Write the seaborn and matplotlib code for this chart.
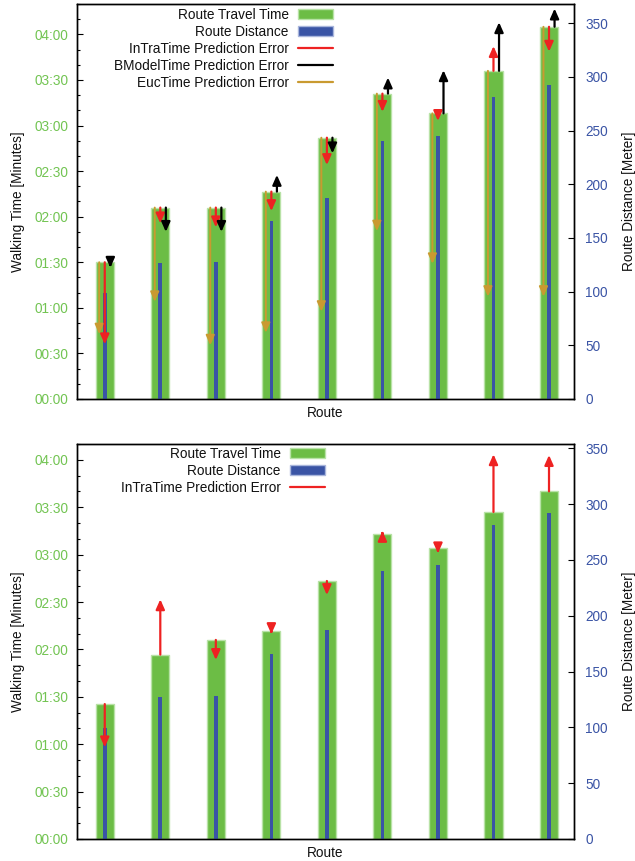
import matplotlib
matplotlib.use("Agg")
import matplotlib.pyplot as plt
import seaborn as sns
import pandas as pd
from matplotlib.ticker import MultipleLocator, FuncFormatter
from matplotlib.patches import Patch
from matplotlib.lines import Line2D

# ---- data -------------------------------------------------------------
routes = [str(i) for i in range(1, 10)]
route_distance_m = [99, 127, 128, 166, 187, 240, 245, 281, 292]

# upper panel, seconds
travel_time_a = [90, 126, 126, 136.5, 172, 201, 188, 216, 245]
intra_pred_a = [36, 115.6, 113, 123.7, 154, 189, 183, 232.3, 228.6]
bmodel_pred_a = [86.4, 110, 110, 147.5, 161.7, 211.6, 216.4, 248, 257]
euc_pred_a = [42.7, 64, 35.4, 43.6, 57.5, 110.5, 89, 67.4, 67.4]

# lower panel, seconds
travel_time_b = [85.4, 116.7, 126, 131.8, 163.3, 193.2, 184, 207, 220]
intra_pred_b = [58, 151.7, 113.3, 129.7, 154.4, 195, 180.8, 243.5, 243]

# metres shown per second on the right axis
M_PER_S = 1.415

GREEN = "#6cbd45"
GREEN_EDGE = "#b8e2a6"
GREEN_TXT = "#72c452"
BLUE = "#3a54a5"
BLUE_EDGE = "#a9b6dc"
RED = "#ee2222"
BLACK = "#000000"
GOLD = "#c99a30"

sns.set_theme(style="ticks")
plt.rcParams["font.family"] = ["Liberation Sans", "DejaVu Sans"]
FS = 9.8


def mmss(v, _pos=None):
    v = int(round(v))
    return f"{v // 60:02d}:{v % 60:02d}"


def draw_panel(ax, travel, arrow_sets, y_top, legend_entries, legend_anchor):
    df_t = pd.DataFrame({"route": routes, "time": travel})
    df_d = pd.DataFrame({"route": routes, "dist": route_distance_m})

    sns.barplot(data=df_t, x="route", y="time", ax=ax, color=GREEN,
                saturation=1, width=0.325, edgecolor=GREEN_EDGE,
                linewidth=1.0, errorbar=None)
    ax2 = ax.twinx()
    sns.barplot(data=df_d, x="route", y="dist", ax=ax2, color=BLUE,
                saturation=1, width=0.065, linewidth=0, errorbar=None)

    # prediction error vectors: from measured time to predicted time
    for preds, offset, color, lw in arrow_sets:
        for i, (t, p) in enumerate(zip(travel, preds)):
            ax2.annotate("", xy=(i + offset, p), xytext=(i + offset, t),
                         xycoords=ax.transData, textcoords=ax.transData,
                         arrowprops=dict(arrowstyle="-|>,head_length=0.45,head_width=0.2",
                                         color=color, lw=lw, mutation_scale=13,
                                         shrinkA=0, shrinkB=0))

    ax.set_xlim(-0.5, 8.45)
    ax.set_ylim(0, y_top)
    ax2.set_ylim(0, y_top * M_PER_S)

    ax.yaxis.set_major_locator(MultipleLocator(30))
    ax.yaxis.set_minor_locator(MultipleLocator(10))
    ax.yaxis.set_major_formatter(FuncFormatter(mmss))
    ax2.yaxis.set_major_locator(MultipleLocator(50))

    ax.tick_params(axis="x", bottom=False, labelbottom=False)
    ax2.tick_params(axis="x", bottom=False, labelbottom=False)
    ax.tick_params(axis="y", which="major", direction="in", length=4,
                   width=0.8, labelcolor=GREEN_TXT, labelsize=FS, pad=6,
                   color="black")
    ax.tick_params(axis="y", which="minor", direction="in", length=2.5,
                   width=0.8, color="black", left=True)
    ax2.tick_params(axis="y", which="major", direction="in", length=4,
                    width=0.8, labelcolor=BLUE, labelsize=FS, pad=8,
                    color="black")

    for a in (ax, ax2):
        for s in a.spines.values():
            s.set_visible(True)
            s.set_color("black")
            s.set_linewidth(1.0)

    ax.set_xlabel("Route", fontsize=FS, color="#111111")
    ax.xaxis.set_label_coords(0.5, -0.018)
    ax.set_ylabel("Walking Time [Minutes]", fontsize=FS, color="#111111")
    ax.yaxis.set_label_coords(-0.105, 0.5)
    ax2.set_ylabel("Route Distance [Meter]", fontsize=FS, color="#111111")
    ax2.yaxis.set_label_coords(1.097, 0.5)

    handles, labels = [], []
    for kind, color, edge, label in legend_entries:
        if kind == "patch":
            handles.append(Patch(facecolor=color, edgecolor=edge, linewidth=1.0))
        else:
            handles.append(Line2D([], [], color=color, lw=1.6))
        labels.append(label)
    leg = ax2.legend(handles, labels, loc="upper right",
                     bbox_to_anchor=legend_anchor, bbox_transform=ax.figure.transFigure,
                     frameon=False, markerfirst=False, borderpad=0,
                     borderaxespad=0, handlelength=2.55, handletextpad=0.7,
                     labelspacing=0.22, fontsize=FS)
    for txt in leg.get_texts():
        txt.set_color("#111111")
    return ax2


fig = plt.figure(figsize=(6.35, 8.61), dpi=100)
W, H = 635, 861
ax_a = fig.add_axes([77 / W, 1 - 399 / H, 497 / W, 395 / H])
ax_b = fig.add_axes([77 / W, 1 - 839 / H, 497 / W, 395 / H])

draw_panel(
    ax_a, travel_time_a,
    [(euc_pred_a, -0.1, GOLD, 1.4), (intra_pred_a, 0.0, RED, 1.6),
     (bmodel_pred_a, 0.1, BLACK, 1.6)],
    260,
    [("patch", GREEN, GREEN_EDGE, "Route Travel Time"),
     ("patch", BLUE, BLUE_EDGE, "Route Distance"),
     ("line", RED, None, "InTraTime Prediction Error"),
     ("line", BLACK, None, "BModelTime Prediction Error"),
     ("line", GOLD, None, "EucTime Prediction Error")],
    (333 / W, 1 - 8 / H),
)

draw_panel(
    ax_b, travel_time_b,
    [(intra_pred_b, 0.0, RED, 1.6)],
    250,
    [("patch", GREEN, GREEN_EDGE, "Route Travel Time"),
     ("patch", BLUE, BLUE_EDGE, "Route Distance"),
     ("line", RED, None, "InTraTime Prediction Error")],
    (325 / W, 1 - 447 / H),
)

fig.savefig("out.png", dpi=100)
